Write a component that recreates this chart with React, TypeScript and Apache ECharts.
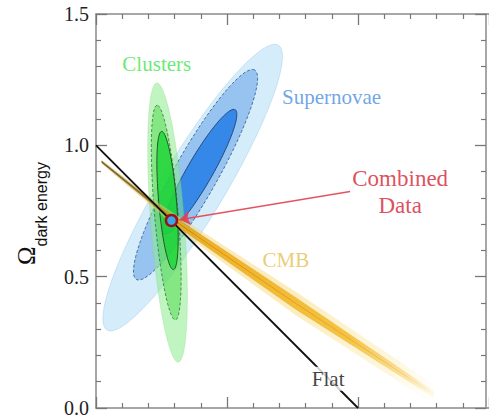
import React, { useEffect, useRef } from "react";
import * as echarts from "echarts";

// ---- data (Ω_matter on x, Ω_dark energy on y) ----
const X_MIN = 0;
const X_MAX = 1.5;
const Y_MIN = 0;
const Y_MAX = 1.5;
const Y_TICK_LABELS = ["0.0", "0.5", "1.0", "1.5"];

// contour ellipses: [centre Ωm, centre ΩΛ, semi-major, semi-minor, angle (deg)]
const SUPERNOVAE_CONTOURS = [
  [0.369, 0.839, 0.633, 0.12, 58.9],
  [0.38, 0.888, 0.458, 0.083, 60.5],
  [0.395, 0.899, 0.273, 0.049, 60.1],
];
const CLUSTER_CONTOURS = [
  [0.273, 0.706, 0.533, 0.064, 94.4],
  [0.268, 0.744, 0.41, 0.045, 94.9],
  [0.273, 0.79, 0.264, 0.034, 94.9],
];

// CMB band: centre line and half widths (in ΩΛ)
const CMB_OM = [0.022, 0.228, 0.326, 0.764, 1.288];
const CMB_OL = [0.937, 0.771, 0.695, 0.397, 0.053];
const CMB_OUTER = [0.008, 0.016, 0.027, 0.045, 0.038];
const CMB_INNER = [0.003, 0.007, 0.014, 0.022, 0.011];

const FLAT_LINE = [
  [0, 1],
  [1, 0],
];
const COMBINED = [0.288, 0.714];
const ARROW_FROM = [0.97, 0.824];
const ARROW_TO = [0.318, 0.717];

const LABEL_NAMES = ["Clusters", "Supernovae", "Combined\nData", "CMB", "Flat"];
const LABEL_OM = [0.232, 0.899, 1.161, 0.725, 0.886];
const LABEL_OL = [1.309, 1.184, 0.824, 0.565, 0.111];

// ---- styles ----
const SERIF = '"Liberation Serif", "Times New Roman", serif';
const SANS = '"Liberation Sans", Arial, sans-serif';

const SN_STYLES = [
  { fill: "#d5ecfa", stroke: "rgba(150,200,235,0.7)", lineWidth: 0.6 },
  { fill: "#97c3f1", stroke: "#3d5f8f", lineWidth: 0.9, lineDash: [3, 2] },
  { fill: "#3587e8", stroke: "#1f3f72", lineWidth: 0.9 },
];
const CL_STYLES = [
  { fill: "rgba(140,235,140,0.55)", stroke: "rgba(120,210,120,0.5)", lineWidth: 0.5 },
  { fill: "rgba(60,215,60,0.45)", stroke: "rgba(40,90,40,0.75)", lineWidth: 0.9, lineDash: [3, 2] },
  { fill: "rgba(10,210,40,0.68)", stroke: "#1c4a1c", lineWidth: 0.9 },
];
const LABEL_COLORS: Record<string, string> = {
  Clusters: "#3fe64f",
  Supernovae: "#4a8ee0",
  "Combined\nData": "#d42232",
  CMB: "#e6c052",
  Flat: "#111111",
};

function ellipseSeries(name: string, data: number[][], styles: any[], z: number) {
  return {
    type: "custom",
    name,
    coordinateSystem: "cartesian2d",
    z,
    silent: true,
    data,
    encode: { x: 0, y: 1 },
    renderItem: (params: any, api: any) => {
      const cx = api.value(0);
      const cy = api.value(1);
      const a = api.value(2);
      const b = api.value(3);
      const ang = (api.value(4) * Math.PI) / 180;
      const pts: number[][] = [];
      const N = 120;
      for (let k = 0; k < N; k++) {
        const t = (k / N) * 2 * Math.PI;
        const x = cx + a * Math.cos(ang) * Math.cos(t) - b * Math.sin(ang) * Math.sin(t);
        const y = cy + a * Math.sin(ang) * Math.cos(t) + b * Math.cos(ang) * Math.sin(t);
        pts.push(api.coord([x, y]));
      }
      return {
        type: "polygon",
        shape: { points: pts },
        style: styles[params.dataIndex],
      };
    },
  };
}

function bandPolygon(api: any, widths: number[]) {
  const upper: number[][] = [];
  const lower: number[][] = [];
  for (let i = 0; i < CMB_OM.length; i++) {
    upper.push(api.coord([CMB_OM[i], CMB_OL[i] + widths[i]]));
    lower.push(api.coord([CMB_OM[i], CMB_OL[i] - widths[i]]));
  }
  return upper.concat(lower.reverse());
}

export default function App() {
  const ref = useRef<HTMLDivElement>(null);
  useEffect(() => {
    if (!ref.current) return;
    const chart = echarts.init(ref.current, null, { renderer: "svg" });

    const axisCommon = {
      type: "value",
      min: X_MIN,
      max: X_MAX,
      interval: 0.5,
      axisLine: { show: true, onZero: false, lineStyle: { color: "#8a8a8a", width: 1.5 } },
      axisTick: { show: true, inside: true, length: 11, lineStyle: { color: "#777", width: 1.3 } },
      minorTick: { show: true, splitNumber: 5, length: 5, lineStyle: { color: "#777", width: 1.2 } },
      splitLine: { show: false },
      minorSplitLine: { show: false },
      axisLabel: { show: false },
    };

    const cmbData = CMB_OM.map((m, i) => [m, CMB_OL[i], CMB_OUTER[i], CMB_INNER[i]]);

    const option: any = {
      animation: false,
      backgroundColor: "#ffffff",
      grid: { left: 96, top: 14, right: -8, bottom: 7, containLabel: false },
      xAxis: [
        { ...axisCommon, position: "bottom" },
        { ...axisCommon, position: "top" },
      ],
      yAxis: [
        {
          ...axisCommon,
          min: Y_MIN,
          max: Y_MAX,
          position: "left",
          axisLabel: {
            show: true,
            margin: 7,
            fontFamily: SERIF,
            fontSize: 20,
            color: "#222",
            formatter: (v: number) => Y_TICK_LABELS[Math.round(v / 0.5)],
          },
        },
        { ...axisCommon, min: Y_MIN, max: Y_MAX, position: "right", offset: -3 },
      ],
      graphic: [
        {
          type: "group",
          x: 35,
          y: 265,
          rotation: Math.PI / 2,
          silent: true,
          children: [
            {
              type: "text",
              x: 0,
              y: -9,
              style: { text: "Ω", font: `25px ${SERIF}`, fill: "#111", align: "left", verticalAlign: "middle" },
            },
            {
              type: "text",
              x: 18.5,
              y: 6.6,
              style: { text: "dark energy", font: `16px ${SANS}`, fill: "#111", align: "left", verticalAlign: "middle" },
            },
          ],
        },
      ],
      series: [
        ellipseSeries("Supernovae", SUPERNOVAE_CONTOURS, SN_STYLES, 1),
        ellipseSeries("Clusters", CLUSTER_CONTOURS, CL_STYLES, 2),
        {
          type: "custom",
          name: "CMB",
          coordinateSystem: "cartesian2d",
          z: 3,
          silent: true,
          data: cmbData,
          encode: { x: 0, y: 1 },
          renderItem: (params: any, api: any) => {
            if (params.dataIndex !== 0) return null;
            const p0 = api.coord([CMB_OM[0], CMB_OL[0]]);
            const n = CMB_OM.length - 1;
            const p1 = api.coord([CMB_OM[n], CMB_OL[n]]);
            const grad = (stops: [number, string][]) =>
              new echarts.graphic.LinearGradient(
                p0[0],
                p0[1],
                p1[0],
                p1[1],
                stops.map(([offset, color]) => ({ offset, color })),
                true
              );
            const centre = CMB_OM.map((m, i) => api.coord([m, CMB_OL[i]]));
            return {
              type: "group",
              children: [
                {
                  type: "polygon",
                  shape: { points: bandPolygon(api, CMB_OUTER) },
                  style: {
                    fill: grad([
                      [0, "rgba(215,195,120,0.45)"],
                      [0.24, "rgba(245,210,110,0.5)"],
                      [0.6, "rgba(250,218,120,0.48)"],
                      [0.88, "rgba(252,228,150,0.32)"],
                      [1, "rgba(255,240,190,0.05)"],
                    ]),
                  },
                },
                {
                  type: "polygon",
                  shape: { points: bandPolygon(api, CMB_INNER) },
                  style: {
                    fill: grad([
                      [0, "#a89350"],
                      [0.14, "#b0923a"],
                      [0.24, "#e0aa24"],
                      [0.35, "#f0b326"],
                      [0.75, "#f5c440"],
                      [0.92, "rgba(248,210,100,0.55)"],
                      [1, "rgba(250,225,140,0.15)"],
                    ]),
                    stroke: grad([
                      [0, "rgba(120,100,40,0.5)"],
                      [0.3, "rgba(200,140,30,0.55)"],
                      [0.85, "rgba(220,160,50,0.3)"],
                      [1, "rgba(230,180,80,0.05)"],
                    ]),
                    lineWidth: 0.8,
                  },
                },
                {
                  type: "polyline",
                  shape: { points: centre },
                  style: {
                    fill: "none",
                    stroke: grad([
                      [0, "#5a4a1a"],
                      [0.2, "#8a6a18"],
                      [0.3, "#d08a12"],
                      [0.85, "rgba(220,140,40,0.45)"],
                      [1, "rgba(230,160,60,0.05)"],
                    ]),
                    lineWidth: 0.9,
                  },
                },
              ],
            };
          },
        },
        {
          type: "line",
          name: "Flat",
          data: FLAT_LINE,
          z: 4,
          silent: true,
          symbol: "none",
          lineStyle: { color: "#111", width: 1.8 },
        },
        {
          type: "lines",
          name: "arrow",
          coordinateSystem: "cartesian2d",
          z: 5,
          silent: true,
          symbol: ["none", "arrow"],
          symbolSize: 11,
          data: [{ coords: [ARROW_FROM, ARROW_TO] }],
          lineStyle: { color: "#e2404f", width: 1.5, opacity: 0.9, curveness: 0 },
        },
        {
          type: "scatter",
          name: "Combined",
          z: 6,
          silent: true,
          data: [COMBINED],
          symbol: "circle",
          symbolSize: 11,
          itemStyle: { color: "#3aa8e8", borderColor: "#9c1020", borderWidth: 2.5, opacity: 1 },
        },
        {
          type: "scatter",
          name: "labels",
          z: 7,
          silent: true,
          symbolSize: 1,
          itemStyle: { color: "rgba(0,0,0,0)" },
          data: LABEL_NAMES.map((name, i) => ({
            name,
            value: [LABEL_OM[i], LABEL_OL[i]],
            label: {
              show: true,
              position: "inside",
              formatter: "{b}",
              fontFamily: SERIF,
              fontSize: name === "Combined\nData" ? 23 : 21,
              lineHeight: name === "Combined\nData" ? 27 : 24,
              color: LABEL_COLORS[name],
              align: "center",
              verticalAlign: "middle",
              backgroundColor: name === "Flat" ? "#ffffff" : "transparent",
              padding: name === "Flat" ? [0, 2] : 0,
            },
          })),
        },
      ],
    };

    chart.setOption(option);
    return () => chart.dispose();
  }, []);

  return (
    <div
      ref={ref}
      style={{ position: "fixed", left: 0, top: 0, width: 489, height: 418, background: "#fff" }}
    />
  );
}
